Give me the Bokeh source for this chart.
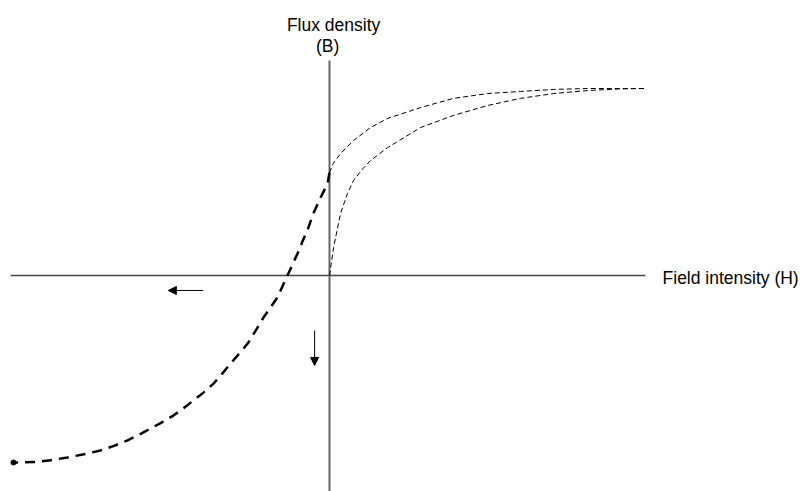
from bokeh.plotting import figure
from bokeh.models import Range1d, Label, Arrow, NormalHead
from bokeh.embed import file_html
from bokeh.resources import INLINE

# Field intensity H and flux density B (normalised, saturation = 1)
virgin_H = [0.0, 0.013, 0.035, 0.057, 0.076, 0.105, 0.130, 0.184, 0.288, 0.392, 0.500, 0.604, 0.709, 0.816, 0.921, 1.0]
virgin_B = [0.0, 0.150, 0.332, 0.439, 0.508, 0.570, 0.615, 0.684, 0.791, 0.856, 0.909, 0.947, 0.973, 0.989, 0.998, 1.0]

upper_H = [0.0, 0.012, 0.035, 0.076, 0.130, 0.184, 0.288, 0.392, 0.500, 0.604, 0.709, 0.816, 1.0]
upper_B = [0.55, 0.60, 0.652, 0.722, 0.791, 0.840, 0.898, 0.947, 0.973, 0.984, 0.995, 1.0, 1.0]

reverse_H = [0.0, -0.006, -0.028, -0.051, -0.070, -0.086, -0.101, -0.117, -0.133, -0.149, -0.165,
             -0.187, -0.209, -0.234, -0.259, -0.286, -0.313, -0.340, -0.367, -0.398, -0.430,
             -0.462, -0.494, -0.530, -0.566, -0.602, -0.639, -0.682, -0.725, -0.777, -0.829,
             -0.883, -0.937, -1.0]
reverse_B = [0.55, 0.492, 0.417, 0.332, 0.241, 0.180, 0.118, 0.059, 0.0, -0.059, -0.118,
             -0.172, -0.225, -0.296, -0.364, -0.418, -0.471, -0.526, -0.578, -0.625, -0.668,
             -0.710, -0.749, -0.785, -0.818, -0.851, -0.882, -0.911, -0.936, -0.956, -0.973,
             -0.988, -0.998, -1.0]

end_H = [-1.0]
end_B = [-1.0]

p = figure(width=801, height=491, output_backend="svg", toolbar_location=None,
           x_range=Range1d(-1.0411, 1.4937), y_range=Range1d(-1.1551, 1.4706),
           min_border=0, outline_line_color=None)
p.axis.visible = False
p.grid.visible = False

# axes
p.line([-1.009, 1.0], [0, 0], line_color="#444444", line_width=1.5)
p.line([0, 0], [-1.3, 1.15], line_color="#666666", line_width=2)

# curves
p.line(virgin_H, virgin_B, line_color="black", line_width=1, line_dash="5 3")
p.line(upper_H, upper_B, line_color="black", line_width=1, line_dash="5 3")
p.line(reverse_H, reverse_B, line_color="black", line_width=2.5, line_dash="10 7")
p.scatter(end_H, end_B, size=5, color="black")

# arrows
p.add_layout(Arrow(end=NormalHead(size=8, fill_color="black", line_color="black"),
                   x_start=-0.40, y_start=-0.08, x_end=-0.51, y_end=-0.08,
                   line_color="black", line_width=1))
p.add_layout(Arrow(end=NormalHead(size=8, fill_color="black", line_color="black"),
                   x_start=-0.047, y_start=-0.294, x_end=-0.047, y_end=-0.481,
                   line_color="black", line_width=1))

font = "Liberation Sans"
p.add_layout(Label(x=0.013, y=1.342, text="Flux density", text_align="center",
                   text_baseline="alphabetic", text_font=font, text_font_size="17.5px",
                   text_color="black"))
p.add_layout(Label(x=-0.006, y=1.225, text="(B)", text_align="center",
                   text_baseline="alphabetic", text_font=font, text_font_size="17.5px",
                   text_color="black"))
p.add_layout(Label(x=1.054, y=-0.011, text="Field intensity (H)", text_align="left",
                   text_baseline="alphabetic", text_font=font, text_font_size="17.5px",
                   text_color="black"))

open("out.html", "w").write(file_html(p, INLINE))
